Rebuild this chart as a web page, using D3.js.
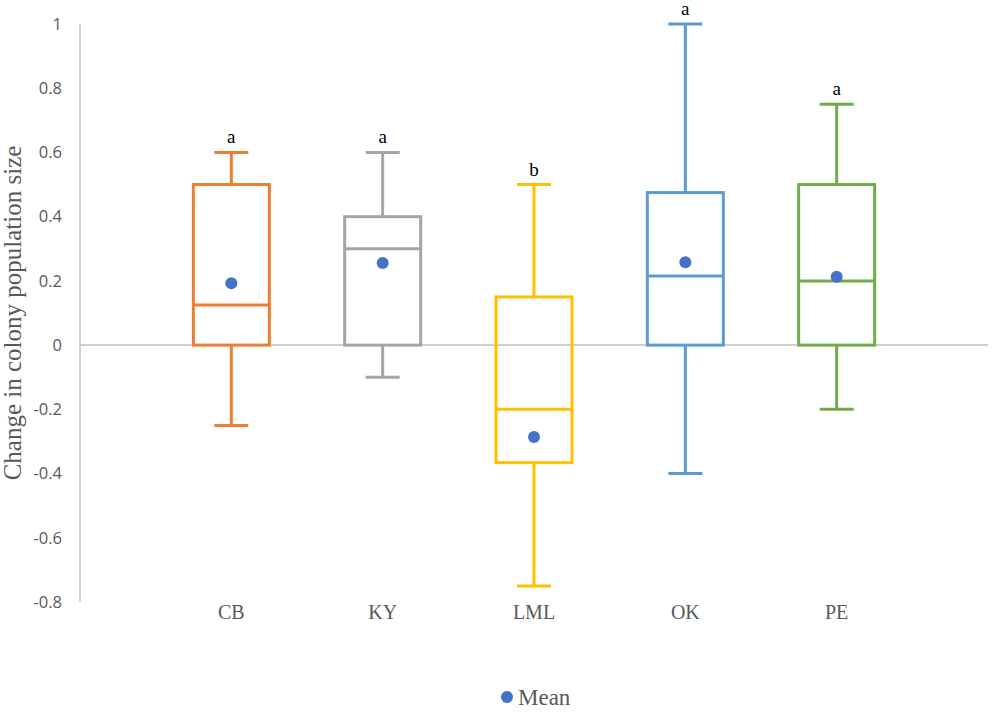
<!DOCTYPE html>
<html><head><meta charset="utf-8">
<script src="https://cdn.jsdelivr.net/npm/d3@7"></script>
<style>body{margin:0;background:#fff}svg{display:block}</style>
</head><body>
<svg id="c" width="994" height="714"></svg>
<script>
const categories = ["CB","KY","LML","OK","PE"];
const maxV    = [0.6, 0.6, 0.5, 1.0, 0.75];
const q3V     = [0.5, 0.4, 0.15, 0.475, 0.5];
const medianV = [0.125, 0.3, -0.2, 0.215, 0.2];
const q1V     = [0.0, 0.0, -0.366, 0.0, 0.0];
const minV    = [-0.25, -0.1, -0.75, -0.4, -0.2];
const meanV   = [0.193, 0.256, -0.286, 0.258, 0.213];
const letters = ["a","a","b","a","a"];
const colors  = ["#ED7D31","#A5A5A5","#FFC000","#5B9BD5","#70AD47"];
const yTicks  = [-0.8,-0.6,-0.4,-0.2,0,0.2,0.4,0.6,0.8,1];

const svg = d3.select("#c");
const x = d3.scalePoint().domain(categories).range([80,988]).padding(1);
const y = d3.scaleLinear().domain([-0.8,1]).range([602,24]);
const boxW = 76, capW = 34;

svg.append("line").attr("x1",80).attr("x2",80).attr("y1",y(1)).attr("y2",y(-0.8))
  .attr("stroke","#BFBFBF").attr("stroke-width",1.5);
svg.append("line").attr("x1",80).attr("x2",988).attr("y1",y(0)).attr("y2",y(0))
  .attr("stroke","#BFBFBF").attr("stroke-width",1.5);
svg.selectAll(".yt").data(yTicks).enter().append("text")
  .attr("x",62).attr("y",d=>y(d)).attr("dy","0.35em").attr("text-anchor","end")
  .attr("font-family","'Open Sans',sans-serif").attr("font-size",16.5).attr("fill","#595959")
  .text(d=>String(+d.toFixed(1)));
svg.append("text").attr("transform",`translate(21,${y(0.1)}) rotate(-90)`)
  .attr("text-anchor","middle").attr("font-family","'Liberation Serif',serif")
  .attr("font-size",25).attr("fill","#595959").text("Change in colony population size");
svg.selectAll(".xl").data(categories).enter().append("text")
  .attr("x",d=>x(d)).attr("y",619).attr("text-anchor","middle")
  .attr("font-family","'Liberation Serif',serif").attr("font-size",20).attr("fill","#595959")
  .text(d=>d);

const g = svg.selectAll(".box").data(categories).enter().append("g")
  .attr("stroke",(d,i)=>colors[i]).attr("stroke-width",3).attr("fill","none");
g.append("line").attr("x1",d=>x(d)).attr("x2",d=>x(d)).attr("y1",(d,i)=>y(maxV[i])).attr("y2",(d,i)=>y(q3V[i]));
g.append("line").attr("x1",d=>x(d)).attr("x2",d=>x(d)).attr("y1",(d,i)=>y(q1V[i])).attr("y2",(d,i)=>y(minV[i]));
g.append("line").attr("x1",d=>x(d)-capW/2).attr("x2",d=>x(d)+capW/2).attr("y1",(d,i)=>y(maxV[i])).attr("y2",(d,i)=>y(maxV[i]));
g.append("line").attr("x1",d=>x(d)-capW/2).attr("x2",d=>x(d)+capW/2).attr("y1",(d,i)=>y(minV[i])).attr("y2",(d,i)=>y(minV[i]));
g.append("rect").attr("x",d=>x(d)-boxW/2).attr("width",boxW)
  .attr("y",(d,i)=>y(q3V[i])).attr("height",(d,i)=>y(q1V[i])-y(q3V[i]));
g.append("line").attr("x1",d=>x(d)-boxW/2).attr("x2",d=>x(d)+boxW/2).attr("y1",(d,i)=>y(medianV[i])).attr("y2",(d,i)=>y(medianV[i]));
svg.selectAll(".mean").data(categories).enter().append("circle")
  .attr("cx",d=>x(d)).attr("cy",(d,i)=>y(meanV[i])).attr("r",6).attr("fill","#4472C4");
svg.selectAll(".let").data(categories).enter().append("text")
  .attr("x",d=>x(d)).attr("y",(d,i)=>y(maxV[i])-9).attr("text-anchor","middle")
  .attr("font-family","'Liberation Serif',serif").attr("font-size",19).attr("fill","#000")
  .text((d,i)=>letters[i]);
svg.append("circle").attr("cx",507).attr("cy",697).attr("r",6).attr("fill","#4472C4");
svg.append("text").attr("x",518).attr("y",697).attr("dy","0.35em")
  .attr("font-family","'Liberation Serif',serif").attr("font-size",23).attr("fill","#595959").text("Mean");
</script>
</body></html>
